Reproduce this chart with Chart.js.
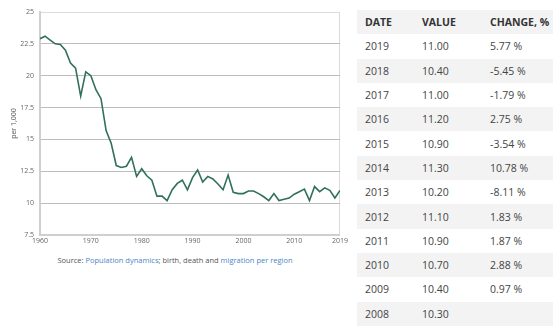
<!DOCTYPE html>
<html>
<head>
<meta charset="utf-8">
<script src="https://cdn.jsdelivr.net/npm/chart.js@4/dist/chart.umd.min.js"></script>
<style>
  body { margin: 0; background: #fff; font-family: "Open Sans", sans-serif; }
  .chart { position: absolute; left: 0; top: 0; width: 350px; height: 250px; }
  .source { position: absolute; left: 0; top: 255px; width: 350px; text-align: center;
            font-size: 7.5px; color: #555; }
  .source a { color: #4a86c5; text-decoration: none; }
  table { position: absolute; left: 357px; top: 10px; width: 196px; border-collapse: collapse;
          font-size: 10.5px; color: #444; }
  th, td { height: 24.3px; padding: 0 0 0 8px; text-align: left; white-space: nowrap; }
  th { font-weight: bold; color: #333; background: #f3f3f3; }
  tbody tr:nth-child(even) td { background: #f3f3f3; }
</style>
</head>
<body>
<div class="chart"><canvas id="myChart"></canvas></div>
<div class="source">Source: <a>Population dynamics</a>; birth, death and <a>migration per region</a></div>
<table>
  <thead><tr><th style="width:49px">DATE</th><th style="width:60px">VALUE</th><th>CHANGE, %</th></tr></thead>
  <tbody id="rows"></tbody>
</table>
<script>
var years = [];
for (var y = 1960; y <= 2019; y++) years.push(y);

// births per 1,000 inhabitants
var births = [
  22.9, 23.1, 22.8, 22.5, 22.45, 22.0, 21.0, 20.6, 18.4, 20.3,
  20.0, 18.9, 18.2, 15.7, 14.7, 12.95, 12.8, 12.9, 13.6, 12.1,
  12.7, 12.15, 11.8, 10.55, 10.55, 10.2, 11.05, 11.55, 11.8, 11.05,
  12.0, 12.6, 11.65, 12.1, 11.9, 11.5, 11.05, 12.2, 10.85, 10.75,
  10.75, 10.95, 10.95, 10.75, 10.5, 10.2, 10.75, 10.2, 10.3, 10.4,
  10.7, 10.9, 11.1, 10.2, 11.3, 10.9, 11.2, 11.0, 10.4, 11.0
];

var xTicks = [1960, 1970, 1980, 1990, 2000, 2010, 2019];
var yTicks = [7.5, 10, 12.5, 15, 17.5, 20, 22.5, 25];
var tableFrom = 2008;

// table, newest year first
var rows = document.getElementById("rows");
for (var i = years.length - 1; years[i] >= tableFrom; i--) {
  var change = "";
  if (years[i] > tableFrom) {
    change = ((births[i] / births[i - 1] - 1) * 100).toFixed(2) + " %";
  }
  var tr = document.createElement("tr");
  tr.innerHTML = "<td>" + years[i] + "</td><td>" + births[i].toFixed(2) + "</td><td>" + change + "</td>";
  rows.appendChild(tr);
}

var points = years.map(function (yr, i) { return { x: yr, y: births[i] }; });

var ctx = document.getElementById("myChart").getContext("2d");
var chart = new Chart(ctx, {
  type: "line",
  data: {
    datasets: [
      {
        data: points,
        borderColor: "#32705a",
        borderWidth: 1.6,
        pointRadius: 0,
        tension: 0,
      },
    ],
  },
  options: {
    animation: false,
    responsive: true,
    maintainAspectRatio: false,
    layout: { padding: { top: 12, right: 8 } },
    plugins: { legend: { display: false }, tooltip: { enabled: false } },
    scales: {
      x: {
        type: "linear",
        min: 1960,
        max: 2019,
        afterBuildTicks: function (scale) {
          scale.ticks = xTicks.map(function (v) { return { value: v }; });
        },
        afterFit: function (scale) { scale.height = 15; },
        ticks: {
          font: { family: "Open Sans", size: 7 },
          color: "#666",
          padding: 2,
          maxRotation: 0,
          callback: function (v) { return String(v); },
        },
        grid: {
          drawTicks: false,
          color: function (c) {
            return c.tick && c.tick.value === 2019 ? "#dadada" : "rgba(0,0,0,0)";
          },
        },
        border: { color: "#cfcfcf", width: 2 },
      },
      y: {
        min: 7.5,
        max: 25,
        afterBuildTicks: function (scale) {
          scale.ticks = yTicks.map(function (v) { return { value: v }; });
        },
        afterFit: function (scale) { scale.width = 40; },
        title: {
          display: true,
          text: "per 1,000",
          font: { family: "Open Sans", size: 7 },
          color: "#555",
          padding: { top: 10, bottom: 0 },
        },
        ticks: {
          font: { family: "Open Sans", size: 7 },
          color: "#666",
          padding: 6,
        },
        grid: {
          drawTicks: false,
          color: function (c) {
            var v = c.tick && c.tick.value;
            return v === 25 || v === 7.5 ? "#dcdcdc" : "#bdbdbd";
          },
        },
        border: { color: "#cfcfcf", width: 2 },
      },
    },
  },
});
</script>
</body>
</html>
